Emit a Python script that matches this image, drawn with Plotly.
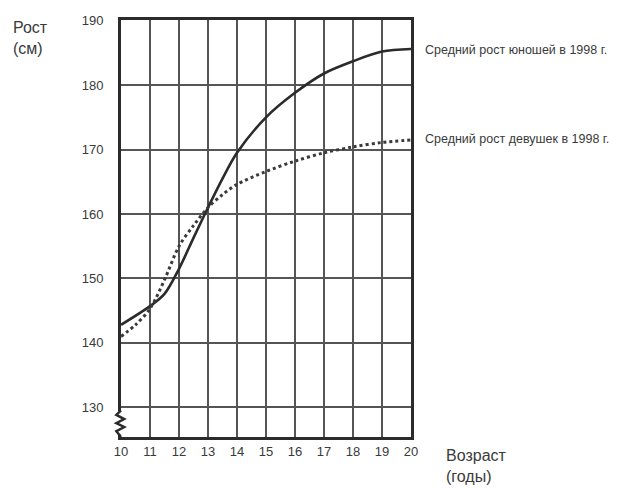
import plotly.graph_objects as go

# Data
boys_age = [10, 11, 11.5, 12, 12.5, 13, 13.5, 14, 15, 16, 17, 18, 19, 20]
boys_height = [142.8, 145.7, 147.6, 151.5, 156.3, 161.0, 165.5, 169.5, 175.0, 178.8, 181.8, 183.7, 185.2, 185.6]
girls_age = [10, 10.5, 11, 11.5, 12, 12.5, 13, 13.5, 14, 15, 16, 17, 18, 19, 20]
girls_height = [141.0, 142.8, 145.3, 149.8, 155.0, 158.2, 161.0, 163.0, 164.6, 166.6, 168.2, 169.5, 170.4, 171.1, 171.5]
x_ticks = list(range(10, 21))
y_ticks = [130, 140, 150, 160, 170, 180, 190]
boys_label = "Средний рост юношей в 1998 г."
girls_label = "Средний рост девушек в 1998 г."

FONT = "Liberation Sans, Arial, sans-serif"
TXT = "#3a3a3a"

fig = go.Figure()
fig.add_trace(go.Scatter(x=boys_age, y=boys_height, mode="lines",
                         line=dict(color="#2b2b2b", width=2.6, shape="spline", smoothing=0.9),
                         showlegend=False, hoverinfo="skip"))
fig.add_trace(go.Scatter(x=girls_age, y=girls_height, mode="lines",
                         line=dict(color="#3a3a3a", width=3, dash="dot", shape="spline", smoothing=0.9),
                         showlegend=False, hoverinfo="skip"))

# axis break (zigzag) on the left axis
fig.add_shape(type="line", xref="paper", yref="paper", x0=0, x1=0, y0=0.006, y1=0.062,
              line=dict(color="white", width=6), layer="above")
fig.add_shape(type="path", xref="paper", yref="paper",
              path="M 0,0.064 L -0.016,0.053 L 0.011,0.043 L -0.016,0.033 L 0.011,0.024 "
                   "L -0.016,0.014 L 0,0.0",
              line=dict(color="#2b2b2b", width=2.5), layer="above")

fig.add_annotation(x=1.0, y=185.5, xref="paper", yref="y", xanchor="left", yanchor="middle",
                   xshift=12, text=boys_label, showarrow=False,
                   font=dict(family=FONT, size=12.5, color=TXT))
fig.add_annotation(x=1.0, y=171.7, xref="paper", yref="y", xanchor="left", yanchor="middle",
                   xshift=12, text=girls_label, showarrow=False,
                   font=dict(family=FONT, size=12.5, color=TXT))
fig.add_annotation(x=0, y=1.0, xref="paper", yref="paper", xanchor="left", yanchor="top",
                   xshift=-110, yshift=3, text="Рост<br>(см)", showarrow=False, align="left",
                   font=dict(family=FONT, size=16, color=TXT))
fig.add_annotation(x=1.0, y=0, xref="paper", yref="paper", xanchor="left", yanchor="top",
                   xshift=33, yshift=-8, text="Возраст<br>(годы)", showarrow=False, align="left",
                   font=dict(family=FONT, size=16, color=TXT))

axis_common = dict(showline=True, linecolor="#2b2b2b", linewidth=3, mirror=True,
                   showgrid=True, gridcolor="#555555", gridwidth=2, zeroline=False,
                   ticks="", tickfont=dict(family=FONT, size=13, color=TXT))
fig.update_xaxes(range=[10, 20], tickvals=x_ticks, ticktext=[str(v) for v in x_ticks], **axis_common)
fig.update_yaxes(range=[125.4, 190.1], tickvals=y_ticks, ticktext=[str(v) for v in y_ticks],
                 ticklabelstandoff=12, **axis_common)

fig.update_layout(width=610, height=480, margin=dict(l=113, r=207, t=5, b=51),
                  plot_bgcolor="white", paper_bgcolor="white")
fig.write_html("out.html")
